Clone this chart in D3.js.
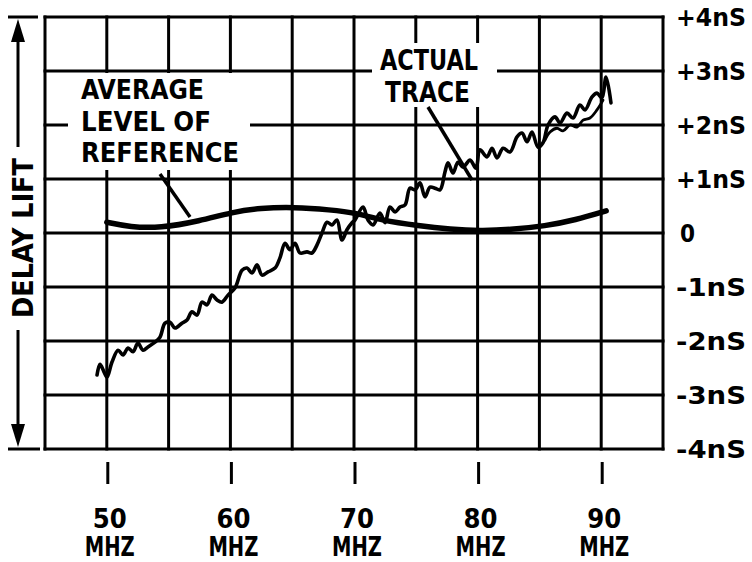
<!DOCTYPE html>
<html>
<head>
<meta charset="utf-8">
<script src="https://cdn.jsdelivr.net/npm/d3@7"></script>
<style>
  html, body { margin: 0; padding: 0; background: #fff; }
  svg { display: block; }
  text { font-family: "DejaVu Sans Condensed", "DejaVu Sans", sans-serif; font-weight: bold; fill: #000; }
</style>
</head>
<body>
<svg id="chart" width="752" height="562"></svg>
<script>
// ---- data (MHz, ns) ----
const xTicks = [50, 60, 70, 80, 90];
const xTickLabels = ["50", "60", "70", "80", "90"];
const xUnit = "MHZ";
const yTicks = [4, 3, 2, 1, 0, -1, -2, -3, -4];
const yTickLabels = ["+4nS", "+3nS", "+2nS", "+1nS", "0", "-1nS", "-2nS", "-3nS", "-4nS"];
const yAxisTitle = "DELAY LIFT";
const refLabel = ["AVERAGE", "LEVEL OF", "REFERENCE"];
const traceLabel = ["ACTUAL", "TRACE"];

// average level of reference (smooth, thick)
const refMHz = [50.0, 51.9, 54.3, 57.5, 60.2, 62.4, 65.1, 68.1, 70.2, 72.1, 75.3, 77.8, 80.2, 82.6, 85.5, 87.9, 90.4];
const refNs  = [0.20, 0.11, 0.09, 0.22, 0.39, 0.46, 0.48, 0.43, 0.37, 0.24, 0.13, 0.07, 0.04, 0.06, 0.13, 0.24, 0.41];

// actual trace (wavy)
const traceMHz = [49.21, 49.45, 49.77, 50.02, 50.42, 50.91, 51.31, 51.72, 52.12, 52.52, 52.93, 53.33, 53.90, 54.30,
  54.71, 55.11, 55.52, 56.08, 56.49, 56.89, 57.30, 57.70, 58.11, 58.51, 58.92, 59.32, 59.81, 60.37, 60.94, 61.34,
  61.75, 62.15, 62.56, 63.04, 63.61, 64.01, 64.42, 64.82, 65.23, 65.63, 66.20, 66.60, 67.01, 67.41, 67.82, 68.22,
  68.62, 69.03, 69.43, 69.84, 70.08, 70.73, 71.13, 71.54, 72.10, 72.51, 72.91, 73.32, 73.72, 74.13, 74.53, 74.94,
  75.34, 75.74, 76.15, 76.55, 76.96, 77.36, 77.61, 78.01, 78.41, 78.82, 79.39, 79.87, 80.19, 80.76, 81.17, 81.57,
  82.06, 82.62, 83.19, 83.59, 84.00, 84.40, 84.89, 85.29, 85.70, 86.26, 86.67, 87.23, 87.72, 88.28, 88.69, 89.26,
  89.66, 90.06, 90.39, 90.79];
const traceNs = [-2.63, -2.43, -2.57, -2.67, -2.39, -2.17, -2.26, -2.13, -2.20, -2.04, -2.17, -2.11, -2.02, -1.93,
  -1.67, -1.65, -1.76, -1.67, -1.61, -1.46, -1.52, -1.28, -1.33, -1.15, -1.24, -1.28, -1.15, -1.02, -0.69, -0.65,
  -0.74, -0.59, -0.78, -0.72, -0.65, -0.46, -0.19, -0.31, -0.19, -0.37, -0.35, -0.37, -0.22, 0.00, 0.20, 0.15,
  0.24, -0.13, 0.06, 0.19, 0.24, 0.48, 0.24, 0.15, 0.37, 0.19, 0.48, 0.39, 0.48, 0.52, 0.83, 0.80,
  0.93, 0.67, 0.85, 0.83, 0.80, 1.13, 1.30, 1.11, 1.31, 1.22, 1.35, 1.20, 1.54, 1.41, 1.57, 1.39,
  1.57, 1.50, 1.78, 1.85, 1.69, 1.87, 1.59, 1.67, 2.00, 2.15, 2.04, 2.22, 2.13, 2.37, 2.28, 2.52,
  2.59, 2.50, 2.89, 2.41];

// second (lower) sweep near the top end
const trace2MHz = [85.45, 85.86, 86.42, 86.91, 87.48, 88.04, 88.53, 89.09, 89.66, 90.15];
const trace2Ns  = [1.72, 1.87, 1.94, 1.89, 2.00, 1.96, 2.09, 2.13, 2.28, 2.46];

// ---- drawing ----
const svg = d3.select("#chart");
const x = d3.scaleLinear().domain([45, 95]).range([45, 663]);
const y = d3.scaleLinear().domain([-4, 4]).range([449, 17]);

const gridX = d3.range(45, 96, 5);
const gridY = d3.range(-4, 5, 1);

// grid
const grid = svg.append("g").attr("stroke", "#000").attr("stroke-width", 3).attr("stroke-linecap", "square");
grid.selectAll("line.v").data(gridX).join("line")
  .attr("x1", d => x(d)).attr("x2", d => x(d)).attr("y1", y(4)).attr("y2", y(-4));
grid.selectAll("line.h").data(gridY).join("line")
  .attr("y1", d => y(d)).attr("y2", d => y(d)).attr("x1", x(45)).attr("x2", x(95));

// label knock-outs
svg.append("rect").attr("x", 68).attr("y", 73).attr("width", 182).attr("height", 97).attr("fill", "#fff");
svg.append("rect").attr("x", 372).attr("y", 43).attr("width", 125).attr("height", 64).attr("fill", "#fff");

// labels inside chart
const refText = svg.append("g");
refLabel.forEach((t, i) => {
  refText.append("text").attr("x", 81).attr("y", 99 + i * 31.5).attr("font-size", 27)
    .attr("textLength", [123, 130, 158][i]).attr("lengthAdjust", "spacingAndGlyphs").text(t);
});
traceLabel.forEach((t, i) => {
  svg.append("text").attr("x", [380, 385][i]).attr("y", 70 + i * 32).attr("font-size", 28)
    .attr("textLength", [98, 85][i]).attr("lengthAdjust", "spacingAndGlyphs").text(t);
});

// pointers
svg.append("line").attr("x1", 160).attr("y1", 174).attr("x2", 190).attr("y2", 217)
  .attr("stroke", "#000").attr("stroke-width", 3.5);
svg.append("line").attr("x1", 428).attr("y1", 107).attr("x2", 472).attr("y2", 180)
  .attr("stroke", "#000").attr("stroke-width", 3.5);

// reference level
const refData = refMHz.map((m, i) => [m, refNs[i]]);
svg.append("path").datum(refData)
  .attr("d", d3.line().x(d => x(d[0])).y(d => y(d[1])).curve(d3.curveBasis))
  .attr("fill", "none").attr("stroke", "#000").attr("stroke-width", 5.5).attr("stroke-linecap", "round");

// actual trace
const lineGen = d3.line().x(d => x(d[0])).y(d => y(d[1])).curve(d3.curveCatmullRom.alpha(0.5));
const traceData = traceMHz.map((m, i) => [m, traceNs[i]]);
svg.append("path").datum(traceData).attr("d", lineGen)
  .attr("fill", "none").attr("stroke", "#000").attr("stroke-width", 3.6).attr("stroke-linejoin", "round").attr("stroke-linecap", "round");
const trace2Data = trace2MHz.map((m, i) => [m, trace2Ns[i]]);
svg.append("path").datum(trace2Data).attr("d", lineGen)
  .attr("fill", "none").attr("stroke", "#000").attr("stroke-width", 2.8).attr("stroke-linejoin", "round").attr("stroke-linecap", "round");

// right axis labels
svg.append("g").selectAll("text").data(yTicks).join("text")
  .attr("x", (d, i) => yTickLabels[i].length > 1 ? 676 : 680).attr("y", d => y(d)).attr("dy", "0.36em").attr("font-size", 24)
  .attr("textLength", (d, i) => yTickLabels[i].length > 1 ? 70 : null)
  .attr("lengthAdjust", "spacingAndGlyphs")
  .text((d, i) => yTickLabels[i]);

// bottom tick marks and labels
svg.append("g").selectAll("line").data(xTicks).join("line")
  .attr("x1", d => x(d) + 1).attr("x2", d => x(d) + 1).attr("y1", 462).attr("y2", 484)
  .attr("stroke", "#000").attr("stroke-width", 3);
const xl = svg.append("g").selectAll("g").data(xTicks).join("g")
  .attr("transform", d => `translate(${x(d) + 3},0)`);
xl.append("text").attr("y", 528).attr("text-anchor", "middle").attr("font-size", 27)
  .attr("textLength", 34).attr("lengthAdjust", "spacingAndGlyphs")
  .text((d, i) => xTickLabels[i]);
xl.append("text").attr("y", 556).attr("text-anchor", "middle").attr("font-size", 27)
  .attr("textLength", 50).attr("lengthAdjust", "spacingAndGlyphs").text(xUnit);

// left axis title with arrows
const ax = svg.append("g");
ax.append("line").attr("x1", 8).attr("x2", 38).attr("y1", 17).attr("y2", 17).attr("stroke", "#000").attr("stroke-width", 3);
ax.append("line").attr("x1", 8).attr("x2", 40).attr("y1", 449).attr("y2", 449).attr("stroke", "#000").attr("stroke-width", 3);
ax.append("line").attr("x1", 18).attr("x2", 18).attr("y1", 40).attr("y2", 147).attr("stroke", "#000").attr("stroke-width", 3);
ax.append("line").attr("x1", 18).attr("x2", 18).attr("y1", 330).attr("y2", 428).attr("stroke", "#000").attr("stroke-width", 3);
ax.append("path").attr("d", "M18,19 L11,42 L25,42 Z").attr("fill", "#000");
ax.append("path").attr("d", "M18,447 L11,424 L25,424 Z").attr("fill", "#000");
ax.append("text").attr("transform", "translate(33,238) rotate(-90)").attr("text-anchor", "middle")
  .attr("font-size", 29).attr("textLength", 160).attr("lengthAdjust", "spacingAndGlyphs").text(yAxisTitle);
</script>
</body>
</html>
